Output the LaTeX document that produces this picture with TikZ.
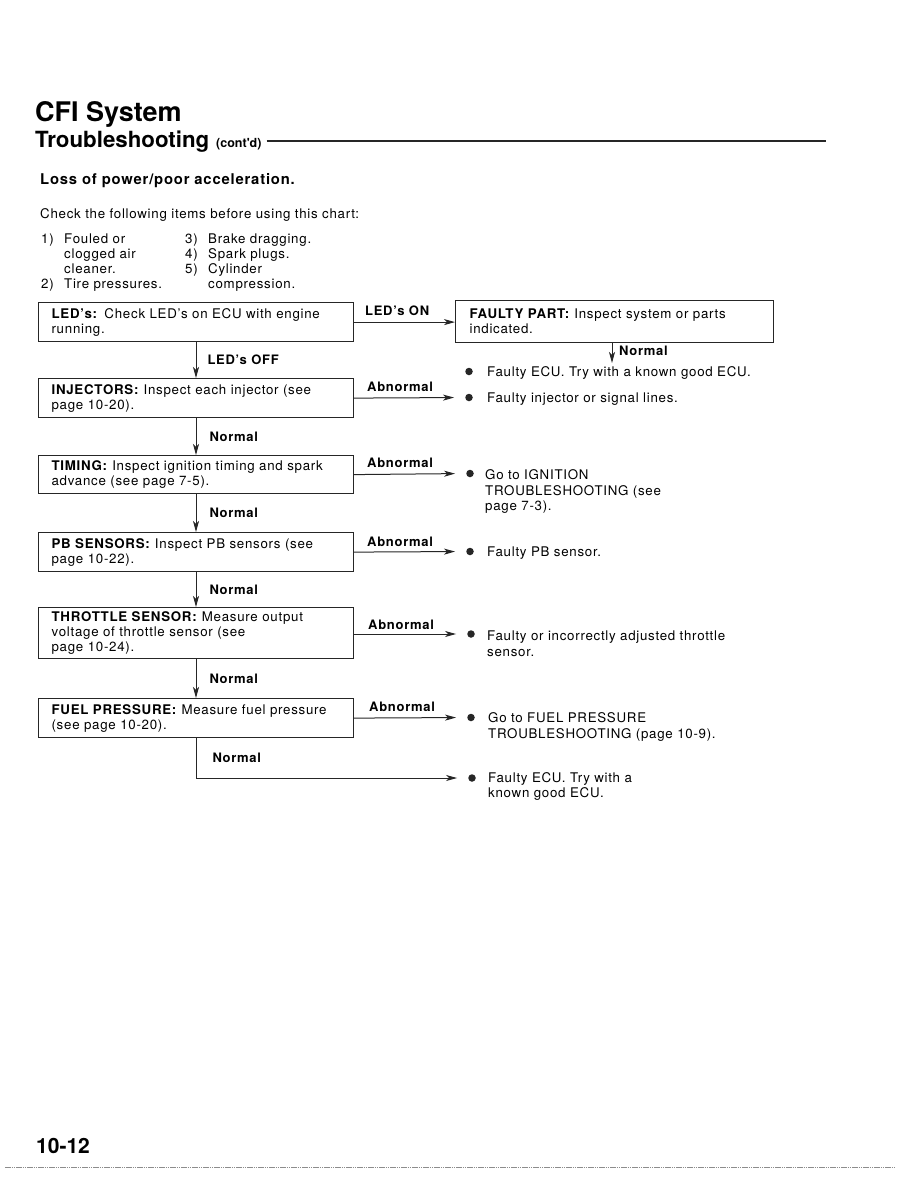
\documentclass[tikz,border=0pt]{standalone}
\usepackage{fontspec}
\setmainfont{TeX Gyre Heros}[LetterSpace=5.5]
\newfontfamily\headf{TeX Gyre Heros}
\usetikzlibrary{arrows.meta,calc}
\newcommand\fbody{\fontsize{13.3}{15}\selectfont}
\newcommand\fbul{\fontsize{13.3}{15.5}\selectfont}
\newcommand\flab{\bfseries\fontsize{13}{15}\selectfont}
\begin{document}
\begin{tikzpicture}[x=1pt,y=-1pt,
  box/.style={draw=black!85, line width=1.2pt, anchor=north west, minimum width=315pt,
    text width=289pt, inner xsep=13pt, inner ysep=0pt, align=left, font=\fbody},
  arr/.style={draw=black!85, line width=1pt, -{Stealth[length=11pt,width=6pt,inset=3pt]}},
  lab/.style={font=\flab, inner sep=0pt},
  dot/.style={circle, fill=black!85, inner sep=0pt, minimum size=7.5pt},
  btxt/.style={font=\fbul, anchor=base west, inner sep=0pt},
  plain/.style={font=\fbody, anchor=base west, inner sep=0pt}]
\useasboundingbox (0,0) rectangle (902,1188);
\fill[white] (0,0) rectangle (902,1188);

% header
\node[anchor=base west, inner sep=0pt, font=\headf\bfseries\fontsize{27}{30}\selectfont] (title) at (35,122) {CFI System};
\node[anchor=base west, inner sep=0pt, font=\headf\bfseries\fontsize{22.3}{26}\selectfont] (ts) at (35,147) {Troubleshooting};
\node[anchor=base west, inner sep=0pt, font=\headf\bfseries\fontsize{12.5}{14}\selectfont] (cont) at (216,147) {(cont'd)};
\coordinate (ruleend) at (826,141);
\draw[line width=2.6pt, black!85] ($(cont.east |- ruleend)+(5,0)$) -- (ruleend);
\node[anchor=base west, inner sep=0pt, font=\bfseries\fontsize{14.8}{16}\selectfont] (loss) at (40,184) {Loss of power/poor acceleration.};

% checklist
\node[plain] (chk) at (40,218.5) {Check the following items before using this chart:};
\node[plain] (n1) at (41,243) {1)};
\node[plain] (i1a) at (64,243) {Fouled or};
\node[plain] (i1b) at (64,258.5) {clogged air};
\node[plain] (i1c) at (64,273.5) {cleaner.};
\node[plain] (n2) at (41,288) {2)};
\node[plain] (i2) at (64,288) {Tire pressures.};
\node[plain] (n3) at (185,243) {3)};
\node[plain] (i3) at (208,243) {Brake dragging.};
\node[plain] (n4) at (185,258.5) {4)};
\node[plain] (i4) at (208,258.5) {Spark plugs.};
\node[plain] (n5) at (185,273.5) {5)};
\node[plain] (i5a) at (208,273.5) {Cylinder};
\node[plain] (i5b) at (208,288) {compression.};

% boxes
\node[box, minimum height=39pt] (led) at (38,302) {\textbf{LED's:} Check LED's on ECU with engine\\running.};
\node[box, minimum height=39pt] (inj) at (38,378) {\textbf{INJECTORS:} Inspect each injector (see\\page 10-20).};
\node[box, minimum height=38pt] (tim) at (38,455) {\textbf{TIMING:} Inspect ignition timing and spark\\advance (see page 7-5).};
\node[box, minimum height=39pt] (pb) at (38,532) {\textbf{PB SENSORS:} Inspect PB sensors (see\\page 10-22).};
\node[box, minimum height=51pt] (thr) at (38,607) {\textbf{THROTTLE SENSOR:} Measure output\\voltage of throttle sensor (see\\page 10-24).};
\node[box, minimum height=39pt] (fuel) at (38,698) {\textbf{FUEL PRESSURE:} Measure fuel pressure\\(see page 10-20).};
\node[box, minimum height=42pt, minimum width=318pt, text width=290pt, inner xsep=14pt] (fp) at (455,300) {\textbf{FAULTY PART:} Inspect system or parts\\indicated.};

% vertical chain
\coordinate (vx) at (196,0);
\draw[arr] (led.south -| vx) -- node[lab, anchor=west, xshift=11pt] (l0) {LED's OFF} (inj.north -| vx);
\draw[arr] (inj.south -| vx) -- node[lab, anchor=west, xshift=13pt] (l1) {Normal} (tim.north -| vx);
\draw[arr] (tim.south -| vx) -- node[lab, anchor=west, xshift=13pt] (l2) {Normal} (pb.north -| vx);
\draw[arr] (pb.south -| vx) -- node[lab, anchor=west, xshift=13pt] (l3) {Normal} (thr.north -| vx);
\draw[arr] (thr.south -| vx) -- node[lab, anchor=west, xshift=13pt] (l4) {Normal} (fuel.north -| vx);

% bullets
\node[dot] (b1) at (469,371.5) {};
\node[dot] (b2) at (469,397.5) {};
\node[dot] (b3) at (470,473.5) {};
\node[dot] (b4) at (470,551.5) {};
\node[dot] (b5) at (471,634) {};
\node[dot] (b6) at (471,717.5) {};
\node[dot] (b7) at (472,778) {};

\node[btxt] (t1) at (487,376) {Faulty ECU. Try with a known good ECU.};
\node[btxt] (t2) at (487,402.5) {Faulty injector or signal lines.};
\node[btxt] (t3) at (485,479.5) {\vtop{\hbox{Go to IGNITION}\hbox{TROUBLESHOOTING (see}\hbox{page 7-3).}}};
\node[btxt] (t4) at (487,556.5) {Faulty PB sensor.};
\node[btxt] (t5) at (487,640.5) {\vtop{\hbox{Faulty or incorrectly adjusted throttle}\hbox{sensor.}}};
\node[btxt] (t6) at (488,722.5) {\vtop{\hbox{Go to FUEL PRESSURE}\hbox{TROUBLESHOOTING (page 10-9).}}};
\node[btxt] (t7) at (488,782) {\vtop{\hbox{Faulty ECU. Try with a}\hbox{known good ECU.}}};

% horizontal arrows
\draw[arr] (led.east) -- (fp.west |- led.east);
\node[lab, anchor=base west] (lon) at (365,315) {LED's ON};
\draw[arr, shorten >=11pt] (inj.east) -- (b2.west);
\node[lab, anchor=base west] (a1) at (367,391) {Abnormal};
\draw[arr, shorten >=11pt] (tim.east) -- (b3.west);
\node[lab, anchor=base west] (a2) at (367,467.5) {Abnormal};
\draw[arr, shorten >=11pt] (pb.east) -- (b4.west);
\node[lab, anchor=base west] (a3) at (367,546) {Abnormal};
\draw[arr, shorten >=11pt] (thr.east |- b5) -- (b5.west);
\node[lab, anchor=base west] (a4) at (368,629) {Abnormal};
\draw[arr, shorten >=11pt] (fuel.east) -- (b6.west);
\node[lab, anchor=base west] (a5) at (369,711) {Abnormal};

% faulty part normal
\coordinate (fpn) at (612,363);
\draw[arr] (fp.south -| fpn) -- (fpn);
\node[lab, anchor=west] (fpl) at (619,351) {Normal};

% final normal
\draw[arr, shorten >=11pt] (fuel.south -| vx) -- node[lab, anchor=west, xshift=16pt] (l5) {Normal} (vx |- b7) -- (b7.west);

% footer
\node[anchor=base west, inner sep=0pt, font=\headf\bfseries\fontsize{21}{24}\selectfont] (pg) at (36,1153) {10-12};
\draw[black!45, line width=0.8pt, dash pattern=on 1.5pt off 0.7pt] (5,1167) -- (896,1167);
\end{tikzpicture}
\end{document}
